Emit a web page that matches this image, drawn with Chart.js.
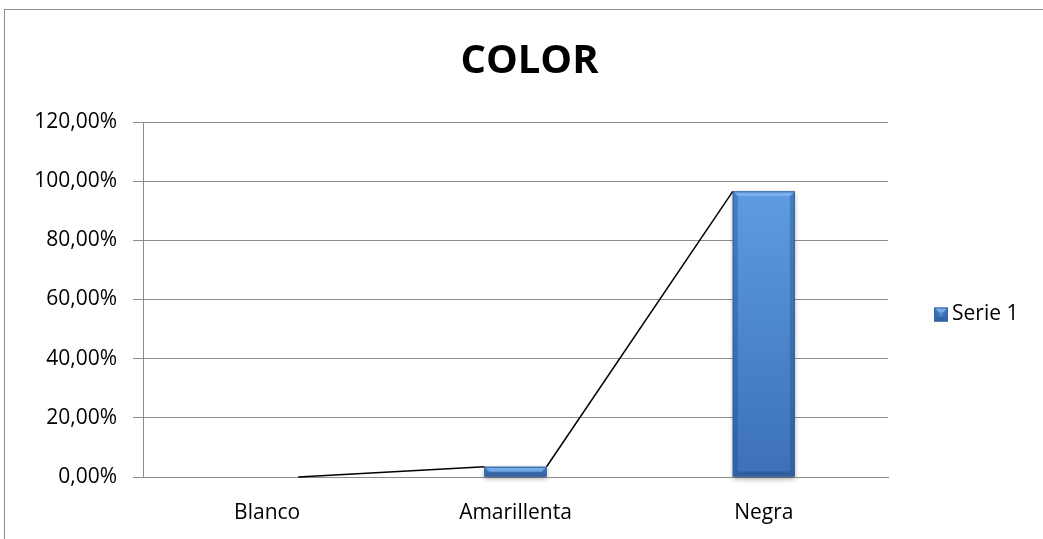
<!DOCTYPE html>
<html>
<head>
<meta charset="utf-8">
<script src="https://cdn.jsdelivr.net/npm/chart.js@4/dist/chart.umd.min.js"></script>
<style>
  html, body { margin: 0; padding: 0; background: #fff; }
  #wrap { position: relative; width: 1043px; height: 539px; }
  #frame { position: absolute; left: 4px; top: 9px; right: 0; bottom: 0;
           border-top: 1px solid #8c8c8c; border-left: 1px solid #8c8c8c; }
</style>
</head>
<body>
<div id="wrap">
  <div id="frame"></div>
  <canvas id="colorChart" width="1043" height="539"></canvas>
</div>
<script>
// Datos
const categorias = ['Blanco', 'Amarillenta', 'Negra'];
const serie1 = [0, 3.45, 96.55];
const serieNombre = 'Serie 1';
const yTicks = [0, 20, 40, 60, 80, 100, 120];

const FONT = "'Open Sans', Lato, sans-serif";
const TXT = 21;

// barras con relieve (degradado + bordes)
function paintBevel(ctx, x0, y0, x1, y1) {
    const w = x1 - x0, h = y1 - y0;
    if (h <= 0 || w <= 0) return;
    const g = ctx.createLinearGradient(0, y0, 0, y1);
    g.addColorStop(0, '#5d9ce2');
    g.addColorStop(1, '#3c70b8');
    ctx.fillStyle = g;
    ctx.fillRect(x0, y0, w, h);
    const b = Math.min(5, h / 2, w / 2);
    // bisel superior claro
    ctx.fillStyle = 'rgba(150,195,245,0.5)';
    ctx.beginPath();
    ctx.moveTo(x0, y0); ctx.lineTo(x1, y0); ctx.lineTo(x1 - b, y0 + b); ctx.lineTo(x0 + b, y0 + b); ctx.closePath();
    ctx.fill();
    // bordes laterales y base
    ctx.fillStyle = 'rgba(30,70,130,0.35)';
    ctx.beginPath();
    ctx.moveTo(x0, y0); ctx.lineTo(x0 + b, y0 + b); ctx.lineTo(x0 + b, y1 - b); ctx.lineTo(x0, y1); ctx.closePath();
    ctx.fill();
    ctx.beginPath();
    ctx.moveTo(x1, y0); ctx.lineTo(x1 - b, y0 + b); ctx.lineTo(x1 - b, y1 - b); ctx.lineTo(x1, y1); ctx.closePath();
    ctx.fill();
    ctx.fillStyle = 'rgba(20,50,100,0.3)';
    ctx.beginPath();
    ctx.moveTo(x0, y1); ctx.lineTo(x0 + b, y1 - b); ctx.lineTo(x1 - b, y1 - b); ctx.lineTo(x1, y1); ctx.closePath();
    ctx.fill();
    ctx.strokeStyle = '#34649f';
    ctx.lineWidth = 1;
    ctx.strokeRect(x0 + 0.5, y0 + 0.5, w - 1, h - 1);
}

const bevelBars = {
    id: 'bevelBars',
    afterDatasetsDraw(chart) {
        const ctx = chart.ctx;
        const meta = chart.getDatasetMeta(0);
        ctx.save();
        meta.data.forEach(bar => {
            const x0 = bar.x - bar.width / 2, x1 = bar.x + bar.width / 2;
            ctx.save();
            ctx.shadowColor = 'rgba(0,0,0,0.35)';
            ctx.shadowBlur = 5;
            ctx.shadowOffsetY = 2;
            ctx.fillStyle = '#3c70b8';
            if (bar.base - bar.y > 0) ctx.fillRect(x0, bar.y, x1 - x0, bar.base - bar.y);
            ctx.restore();
            paintBevel(ctx, x0, bar.y, x1, bar.base);
        });
        // líneas de serie entre barras
        ctx.strokeStyle = '#000';
        ctx.lineWidth = 1.5;
        for (let i = 0; i < meta.data.length - 1; i++) {
            const a = meta.data[i], b = meta.data[i + 1];
            ctx.beginPath();
            ctx.moveTo(a.x + a.width / 2, a.y);
            ctx.lineTo(b.x - b.width / 2, b.y);
            ctx.stroke();
        }
        ctx.restore();
    }
};

// leyenda a la derecha
const sideLegend = {
    id: 'sideLegend',
    afterDraw(chart) {
        const ctx = chart.ctx;
        const area = chart.chartArea;
        const cy = (area.top + area.bottom) / 2 + 15;
        const bx = 934, size = 14;
        ctx.save();
        paintBevel(ctx, bx, cy - size / 2, bx + size, cy + size / 2);
        ctx.fillStyle = '#000';
        ctx.font = TXT + 'px ' + FONT;
        ctx.textBaseline = 'middle';
        ctx.fillText(serieNombre, bx + size + 4, cy);
        ctx.restore();
    }
};

new Chart(document.getElementById('colorChart').getContext('2d'), {
    type: 'bar',
    data: {
        labels: categorias,
        datasets: [{
            label: serieNombre,
            data: serie1,
            backgroundColor: 'rgba(0,0,0,0)',
            borderWidth: 0,
            categoryPercentage: 1,
            barPercentage: 0.25,
        }],
    },
    options: {
        responsive: false,
        animation: false,
        layout: { padding: { left: 16, right: 0, top: 0, bottom: 0 } },
        plugins: {
            legend: { display: false },
            tooltip: { enabled: false },
            title: {
                display: true,
                text: 'COLOR',
                color: '#000',
                font: { family: FONT, size: 40, weight: 'bold', lineHeight: 1.2 },
                padding: { top: 38, bottom: 36 },
            },
        },
        scales: {
            x: {
                grid: { display: false, drawTicks: false },
                border: { display: true, color: '#8c8c8c', width: 1 },
                ticks: { color: '#000', padding: 23, font: { family: FONT, size: TXT } },
                afterFit(scale) { scale.height = 62; },
            },
            y: {
                min: 0,
                max: 120,
                afterBuildTicks(scale) { scale.ticks = yTicks.map(v => ({ value: v })); },
                grid: { color: '#8c8c8c', tickLength: 10, lineWidth: 1 },
                border: { display: true, color: '#8c8c8c', width: 1 },
                ticks: {
                    color: '#000',
                    padding: 16,
                    font: { family: FONT, size: TXT },
                    callback: v => v.toFixed(2).replace('.', ',') + '%',
                },
                afterFit(scale) { scale.width = 127; },
            },
            // espacio reservado para la leyenda
            lado: {
                position: 'right',
                display: true,
                grid: { display: false, drawTicks: false },
                border: { display: false },
                ticks: { display: false },
                afterFit(scale) { scale.width = 155; },
            },
        },
    },
    plugins: [bevelBars, sideLegend],
});
</script>
</body>
</html>
